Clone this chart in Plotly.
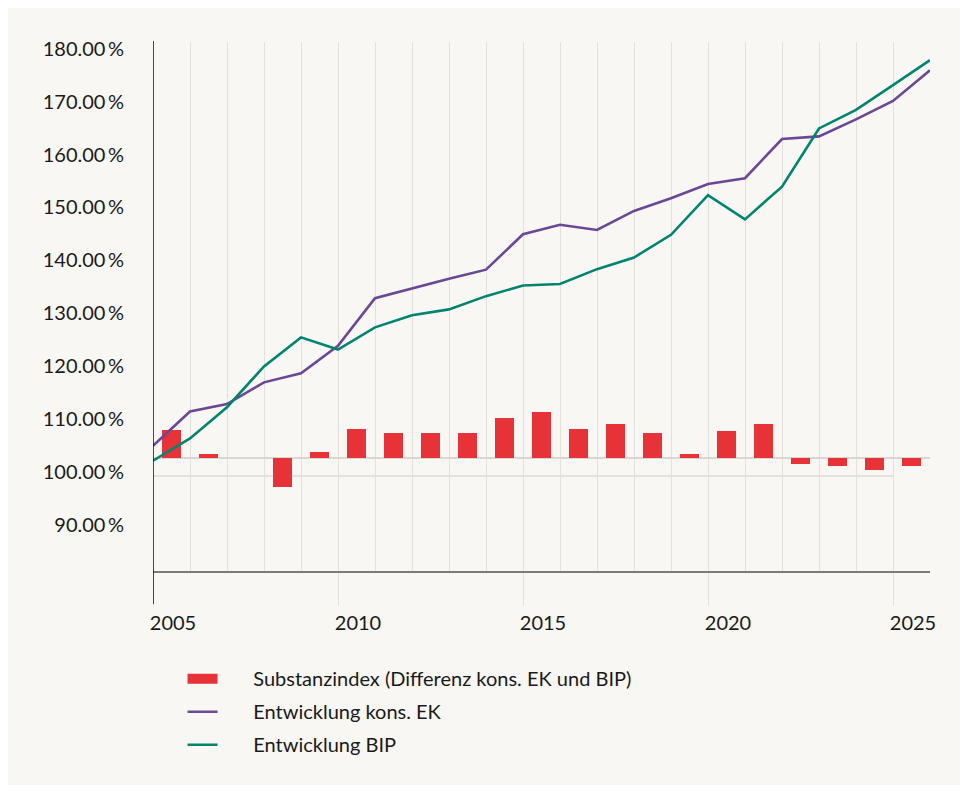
import plotly.graph_objects as go

# ---- data ----
line_years = list(range(2005, 2027))
bar_years = list(range(2005, 2026))
x_tick_labels = ["2005", "2010", "2015", "2020", "2025"]
x_tick_vals = [2005, 2010, 2015, 2020, 2025]
y_tick_vals = [90, 100, 110, 120, 130, 140, 150, 160, 170, 180]
y_tick_labels = ["90.00\u2009%", "100.00\u2009%", "110.00\u2009%", "120.00\u2009%", "130.00\u2009%",
                 "140.00\u2009%", "150.00\u2009%", "160.00\u2009%", "170.00\u2009%", "180.00\u2009%"]

ek = [105.7, 112.2, 113.6, 117.7, 119.4, 124.6, 133.6, 135.5, 137.3, 139.0, 145.7,
      147.5, 146.5, 150.1, 152.5, 155.2, 156.3, 163.7, 164.2, 167.4, 170.9, 176.7]
bip = [102.9, 107.1, 113.0, 120.7, 126.2, 123.9, 128.1, 130.4, 131.5, 134.0, 136.0,
       136.3, 139.1, 141.3, 145.6, 153.1, 148.5, 154.7, 165.7, 169.2, 173.9, 178.6]
substanz = [2.8, 0.4, 0.0, -2.9, 0.6, 2.9, 2.5, 2.5, 2.5, 4.0, 4.6,
            2.9, 3.4, 2.5, 0.4, 2.7, 3.4, -0.6, -0.8, -1.2, -0.8]

names = ["Substanzindex (Differenz kons. EK und BIP)",
         "Entwicklung kons. EK",
         "Entwicklung BIP"]

RED = "#e73238"
PURPLE = "#6b4896"
GREEN = "#00846f"
BG = "#f8f7f3"
GRID = "#e4e1dc"
FONT = "Lato"
pad = "\u00a0" * 6

fig = go.Figure()
fig.add_trace(go.Bar(
    x=bar_years, y=substanz, name=names[0], width=0.51, offset=0.245,
    marker=dict(color=RED, line=dict(width=0)), yaxis="y",
    legendgroup="a", showlegend=False,
))
# legend entry for the bars (wide red swatch)
fig.add_trace(go.Scatter(
    x=[None], y=[None], name=pad + names[0], mode="lines",
    line=dict(color=RED, width=14), yaxis="y", legendgroup="a", hoverinfo="skip",
))
fig.add_trace(go.Scatter(
    x=line_years, y=ek, name=pad + names[1], mode="lines",
    line=dict(color=PURPLE, width=2.6), yaxis="y2", legendgroup="b",
))
fig.add_trace(go.Scatter(
    x=line_years, y=bip, name=pad + names[2], mode="lines",
    line=dict(color=GREEN, width=2.6), yaxis="y2", legendgroup="c",
))

fig.update_layout(
    width=952, height=777,
    margin=dict(l=145, r=30, t=34, b=214, pad=0),
    paper_bgcolor=BG, plot_bgcolor=BG,
    font=dict(family=FONT, size=20, color="#1a1a1a"),
    showlegend=True,
    bargap=0,
    legend=dict(
        x=0.038, y=-0.1667, xanchor="left", yanchor="top",
        orientation="v", font=dict(family=FONT, size=20, color="#1a1a1a"),
        bgcolor="rgba(0,0,0,0)", itemwidth=30, tracegroupgap=4,
        traceorder="grouped",
    ),
    xaxis=dict(
        range=[2005, 2026], tickvals=x_tick_vals, ticktext=x_tick_labels,
        showgrid=True, gridcolor=GRID, gridwidth=1.3,
        ticks="outside", ticklen=33, tickwidth=1.3, tickcolor=GRID,
        ticklabelshift=20,
        minor=dict(dtick=1, tick0=2005, showgrid=True, gridcolor=GRID, gridwidth=1.3, ticks=""),
        showline=True, linecolor="#7b7b7b", linewidth=2,
        zeroline=False, fixedrange=True,
    ),
    yaxis=dict(
        range=[-11.3, 41.6], showgrid=False, showticklabels=False,
        zeroline=True, zerolinecolor="#dad7d2", zerolinewidth=2,
        showline=False, ticks="",
    ),
    yaxis2=dict(
        range=[82.04, 182.04], overlaying="y", side="left",
        tickvals=y_tick_vals, ticktext=y_tick_labels,
        showgrid=False, zeroline=False, showline=False, ticks="",
        ticklabelstandoff=28, ticklabelshift=-4,
    ),
    shapes=[
        dict(type="line", xref="x", yref="y2", x0=2005, x1=2025, y0=100, y1=100,
             line=dict(color=GRID, width=2), layer="below"),
        dict(type="line", xref="x", yref="paper", x0=2005, x1=2005, y0=-0.0624, y1=1.002,
             line=dict(color="#111111", width=1.5), layer="above"),
    ],
)

fig.write_html("out.html")
